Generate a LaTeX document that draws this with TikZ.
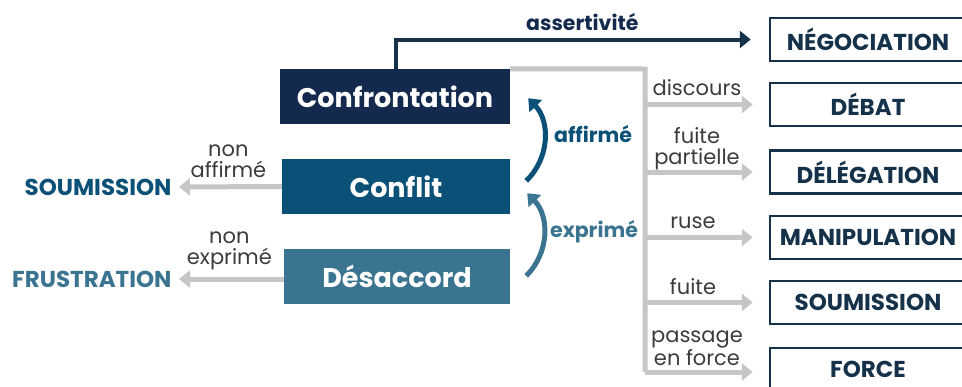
\documentclass[tikz,border=0pt]{standalone}
\usepackage{fontspec}
\setmainfont{Poppins}
\usetikzlibrary{arrows.meta,calc,positioning}

\definecolor{navy}{HTML}{132A4E}
\definecolor{petrol}{HTML}{0B5177}
\definecolor{steel}{HTML}{3A7491}
\definecolor{ink}{HTML}{15324A}
\definecolor{branchgray}{HTML}{C6C6C6}
\definecolor{labelgray}{HTML}{3C3C3C}

\begin{document}
\begin{tikzpicture}[x=1pt,y=-1pt,
    levelbox/.style={fill=#1, text=white, inner sep=0pt, minimum height=55,
        font=\fontsize{27}{27}\selectfont\bfseries},
    outbox/.style={draw=ink, line width=2.5pt, text=ink, inner sep=0pt,
        minimum width=196, minimum height=43, font=\fontsize{23}{23}\selectfont\bfseries},
    sidelabel/.style={font=\fontsize{23}{23}\selectfont\bfseries},
    turnlabel/.style={font=\fontsize{20.5}{20.5}\selectfont\bfseries},
    branchlabel/.style={text=labelgray, align=center,
        font=\fontsize{21}{21}\selectfont},
    grayarrow/.style={draw=branchgray, line width=5pt,
        -{Triangle[length=11pt,width=17pt]}},
    bendarrow/.style={draw=#1, line width=5pt, bend right=45,
        -{Triangle[length=11pt,width=17pt]}}
]
    % Canvas
    \useasboundingbox (0,0) rectangle (962,386);

    % Three levels of disagreement
    \node[levelbox=navy, minimum width=230] (confront) at (395,96.5) {Confrontation};
    \node[levelbox=petrol, minimum width=228] (conflit) at (396,186.5) {Conflit};
    \node[levelbox=steel, minimum width=226] (desaccord) at (397,276.5) {Désaccord};

    % Outcomes on the right
    \node[outbox] (nego) at (868,39.5) {NÉGOCIATION};
    \node[outbox] (debat) at (868,104.5) {DÉBAT};
    \node[outbox] (deleg) at (868,172) {DÉLÉGATION};
    \node[outbox] (manip) at (868,237.5) {MANIPULATION};
    \node[outbox] (soumR) at (868,302.5) {SOUMISSION};
    \node[outbox] (force) at (868,369.5) {FORCE};

    % Outcomes on the left
    \node[sidelabel, text=petrol, anchor=east] (soumL) at (175,187) {SOUMISSION};
    \node[sidelabel, text=steel, anchor=east] (frust) at (175,279) {FRUSTRATION};

    % Assertiveness path
    \draw[draw=ink, line width=4pt, shorten >=18pt,
        -{Triangle[length=11pt,width=17pt]}]
        ([xshift=1pt]confront.north) |- (nego.west)
        node[pos=0.75, above=4pt, text=navy, turnlabel] {assertivité};

    % Gray trunk and branches
    \coordinate (trunk) at (645,69);
    \coordinate (trunkend) at (645,372);
    \draw[draw=branchgray, line width=5pt] (confront.north east) -- (trunk) -- (trunkend);
    \draw[grayarrow, shorten >=16pt] (trunk |- debat.west) -- (debat.west);
    \draw[grayarrow, shorten >=16pt] (trunk |- deleg.west) -- (deleg.west);
    \draw[grayarrow, shorten >=16pt] (trunk |- manip.west) -- (manip.west);
    \draw[grayarrow, shorten >=16pt] (trunk |- soumR.west) -- (soumR.west);
    \draw[grayarrow, shorten >=16pt] (trunkend) -- (trunkend -| force.west);

    \node[branchlabel, anchor=south] at (697,99) {discours};
    \node[branchlabel, anchor=south] at (697,173) {fuite\\partielle};
    \node[branchlabel, anchor=south] at (693,232) {ruse};
    \node[branchlabel, anchor=south] at (693,298) {fuite};
    \node[branchlabel, anchor=south] at (697,369) {passage\\en force};

    % Arrows to the left
    \draw[grayarrow, shorten >=4pt] (conflit.west) -- (soumL.east)
        node[branchlabel, midway, above=3pt] {non\\affirmé};
    \draw[grayarrow, shorten >=4pt] (desaccord.west |- frust) -- (frust.east)
        node[branchlabel, midway, above=3pt] {non\\exprimé};

    % Escalation arrows
    \coordinate (affA) at ($(conflit.north east)+(16,22)$);
    \coordinate (affB) at ($(confront.south east)+(18,-26)$);
    \coordinate (expA) at ($(desaccord.north east)+(16,27)$);
    \coordinate (expB) at ($(conflit.south east)+(17,-21)$);
    \draw[bendarrow=petrol] (affA) to (affB);
    \draw[bendarrow=steel] (expA) to (expB);
    \node[turnlabel, text=petrol] at (593,134) {affirmé};
    \node[turnlabel, text=steel] at (594,232) {exprimé};
\end{tikzpicture}
\end{document}
